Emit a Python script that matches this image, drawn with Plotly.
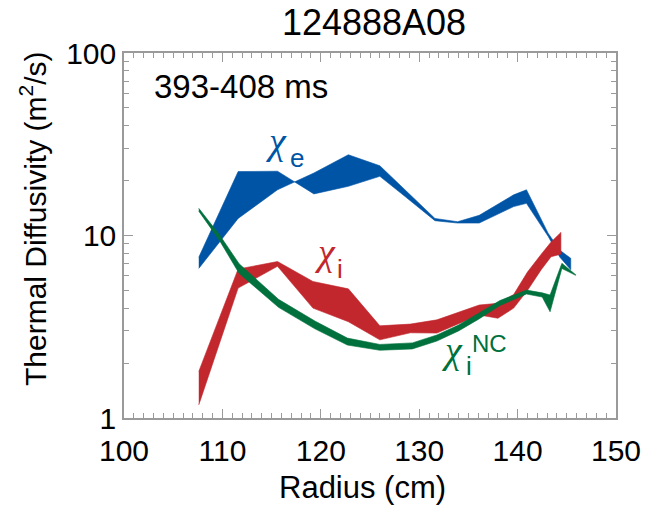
import plotly.graph_objects as go

# Electron diffusivity: radial grid and the two bounding profiles of the 393-408 ms window
r_e = [107.6, 111.6, 115.6, 119.3, 122.8, 126.0, 128.6, 131.6, 133.9, 136.1, 139.6, 140.9, 143.1, 144.3, 145.4]
chi_e_t1 = [7.6, 22.4, 22.5, 16.9, 18.6, 21.1, 16.3, 12.05, 11.7, 11.7, 14.4, 15.0, 9.9, 7.6, 6.5]
chi_e_t2 = [6.6, 12.4, 17.8, 22.0, 27.7, 24.1, 17.8, 12.4, 11.9, 12.9, 16.7, 17.8, 10.3, 8.3, 7.5]

# Ion diffusivity (power balance)
r_i = [107.6, 111.6, 115.6, 119.2, 122.8, 126.0, 129.1, 131.8, 136.1, 138.0, 139.6, 141.0, 142.4, 143.4, 144.4]
chi_i_hi = [1.80, 6.55, 7.2, 5.6, 5.1, 3.2, 3.27, 3.45, 4.16, 4.25, 4.75, 6.3, 7.9, 9.2, 10.4]
chi_i_lo = [1.18, 5.15, 6.78, 4.0, 3.37, 2.68, 2.93, 2.92, 3.67, 3.52, 4.0, 5.0, 6.5, 7.65, 7.9]

# Neoclassical ion diffusivity
r_nc = [107.6, 109.7, 111.7, 115.7, 119.4, 122.7, 126.0, 129.3, 131.8, 134.0, 136.0, 138.2, 140.9, 142.5, 143.3, 144.5, 145.9]
chi_nc_hi = [14.1, 10.1, 7.0, 4.47, 3.40, 2.74, 2.53, 2.58, 2.85, 3.23, 3.74, 4.40, 5.02, 4.85, 4.72, 7.04, 6.1]
chi_nc_lo = [13.6, 9.4, 6.2, 4.04, 3.08, 2.51, 2.35, 2.39, 2.64, 3.00, 3.47, 4.13, 4.78, 4.6, 3.82, 6.6, 6.05]

x_ticks = [100, 110, 120, 130, 140, 150]
y_ticks = [1, 10, 100]
y_tick_text = ["1", "10", "100"]
y_minor = [2, 3, 4, 5, 6, 7, 8, 9, 20, 30, 40, 50, 60, 70, 80, 90]

BLUE = "#0054A6"
RED = "#C1272D"
GREEN = "#00703C"
FRAME = "#9a9a9a"
FONT = "Liberation Sans, Arial, sans-serif"

W, H = 647, 507
L, R, T, B = 124, 31, 53, 89
PW, PH = W - L - R, H - T - B


def band(r, a, b, color):
    return go.Scatter(
        x=list(r) + list(reversed(r)),
        y=list(a) + list(reversed(b)),
        mode="lines",
        fill="toself",
        fillcolor=color,
        line=dict(color=color, width=0.6),
        hoverinfo="skip",
        showlegend=False,
    )


fig = go.Figure()
fig.add_trace(band(r_e, chi_e_t1, chi_e_t2, BLUE))
fig.add_trace(band(r_i, chi_i_hi, chi_i_lo, RED))
fig.add_trace(band(r_nc, chi_nc_hi, chi_nc_lo, GREEN))


def px(x, y):
    """Pixel position on the page -> paper coordinates."""
    return (x - L) / PW, (H - B - y) / PH


def label(text, x, y, size, color, family=FONT, xanchor="center", angle=0):
    xp, yp = px(x, y)
    fig.add_annotation(
        x=xp, y=yp, xref="paper", yref="paper", text=text, showarrow=False,
        xanchor=xanchor, yanchor="middle", textangle=angle,
        font=dict(family=family, size=size, color=color),
    )


CHI_FONT = "Liberation Serif, DejaVu Serif, serif"
# chi_e
label("<i>χ</i>", 276, 141, 38, BLUE, CHI_FONT)
label("e", 297, 158, 26, BLUE)
# chi_i
label("<i>χ</i>", 325, 252, 38, RED, CHI_FONT)
label("i", 340, 269, 26, RED)
# chi_i^NC
label("<i>χ</i>", 452, 350, 38, GREEN, CHI_FONT)
label("i", 469, 366, 26, GREEN)
label("NC", 489, 343, 24, GREEN)

# time window
label("393-408 ms", 152, 87, 33, "black", xanchor="left")

# axis titles
label("Radius (cm)", 362, 487, 31, "black")
label("Thermal Diffusivity (m<sup>2</sup>/s)", 33, 219, 30, "black", angle=-90)

fig.update_layout(
    width=W,
    height=H,
    margin=dict(l=L, r=R, t=T, b=B, autoexpand=False),
    paper_bgcolor="white",
    plot_bgcolor="white",
    title=dict(
        text="124888A08",
        x=374 / W, xanchor="center",
        y=1 - 22 / H, yanchor="middle",
        font=dict(family=FONT, size=36, color="black"),
    ),
    font=dict(family=FONT, color="black"),
)

fig.update_xaxes(
    range=[100, 150],
    tickvals=x_ticks,
    ticks="inside",
    ticklen=9,
    tickwidth=1.2,
    tickcolor=FRAME,
    minor=dict(dtick=1, ticks="inside", ticklen=5, tickwidth=1, tickcolor=FRAME),
    showline=True,
    linecolor=FRAME,
    linewidth=1.5,
    mirror="ticks",
    showgrid=False,
    zeroline=False,
    automargin=False,
    ticklabelstandoff=5,
    tickfont=dict(family=FONT, size=30, color="black"),
)

fig.update_yaxes(
    type="log",
    range=[0, 2],
    tickvals=y_ticks,
    ticktext=y_tick_text,
    ticks="inside",
    ticklen=9,
    tickwidth=1.2,
    tickcolor=FRAME,
    minor=dict(tickvals=y_minor, ticks="inside", ticklen=5, tickwidth=1, tickcolor=FRAME),
    showline=True,
    linecolor=FRAME,
    linewidth=1.5,
    mirror="ticks",
    showgrid=False,
    zeroline=False,
    automargin=False,
    tickfont=dict(family=FONT, size=30, color="black"),
)

fig.write_html("out.html")
